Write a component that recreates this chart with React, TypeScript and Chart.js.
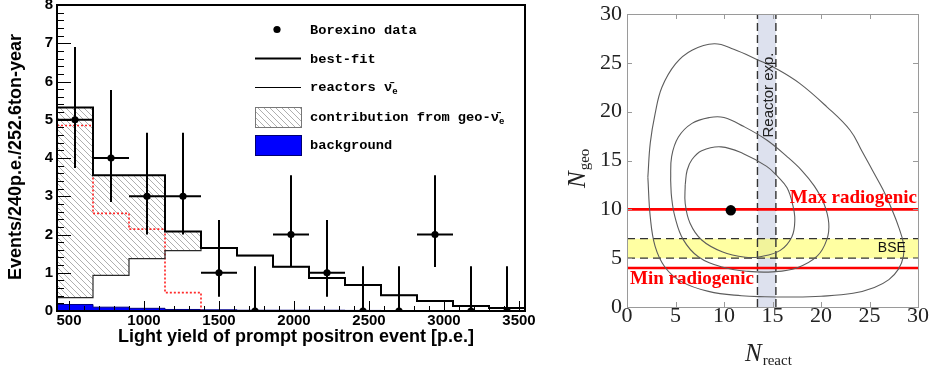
import React, { useEffect, useRef } from 'react';
import { Chart, registerables } from 'chart.js';

Chart.register(...registerables);

// ---------------- Left panel: Borexino prompt-event spectrum ----------------
const binLowEdges = [420, 660, 900, 1140, 1380, 1620, 1860, 2100, 2340, 2580, 2820, 3060, 3300];
const binHighEdge = 3540;
const binCenters = [540, 780, 1020, 1260, 1500, 1740, 1980, 2220, 2460, 2700, 2940, 3180, 3420];
const binHalfWidth = 120;
const dataCounts = [5, 4, 3, 3, 1, 0, 2, 1, 0, 0, 2, 0, 0];
const dataErrHigh = [6.9, 5.78, 4.66, 4.66, 2.38, 1.17, 3.55, 2.38, 1.17, 1.17, 3.55, 1.17, 1.17];
const dataErrLow = [3.74, 2.85, 2.0, 2.0, 0.37, 0, 1.15, 0.37, 0, 0, 1.15, 0, 0];
const bestFitValues = [5.32, 3.55, 3.55, 2.08, 1.65, 1.45, 1.16, 0.86, 0.68, 0.41, 0.26, 0.13, 0.08];
const reactorValues = [0.35, 0.93, 1.37, 1.58, 1.65, 1.45, 1.16, 0.86, 0.68, 0.41, 0.26, 0.13, 0.08];
const geoValues = [4.85, 2.55, 2.14, 0.48, 0, 0, 0, 0, 0, 0, 0, 0, 0];
const backgroundValues = [0.17, 0.1, 0.07, 0.04, 0.03, 0.02, 0.02, 0.02, 0.015, 0.01, 0.01, 0.01, 0.01];
const leftXTicks = [500, 1000, 1500, 2000, 2500, 3000, 3500];
const leftYTicks = [0, 1, 2, 3, 4, 5, 6, 7, 8];
const leftXRange = [420, 3540];
const leftYRange = [0, 8];

// ---------------- Right panel: N_geo vs N_react ----------------
const contour9973 = [
  [2.15, 13.3], [2.4, 16.8], [2.9, 19.8], [3.6, 22.5], [5.0, 24.9], [6.7, 26.3], [9.0, 26.95],
  [11.0, 26.4], [13.5, 25.3], [15.4, 24.4], [17.8, 22.9], [20.6, 20.5], [23.0, 18.1], [24.2, 16.0],
  [25.3, 14.0], [26.4, 12.0], [27.3, 10.0], [28.0, 8.2], [28.5, 6.5], [28.5, 5.2], [28.0, 3.9],
  [27.0, 2.8], [25.5, 2.0], [23.3, 1.4], [20.0, 1.1], [17.0, 1.02], [14.2, 1.05], [11.8, 1.15],
  [8.4, 1.6], [5.6, 2.6], [3.9, 4.1], [2.9, 6.2], [2.4, 9.2], [2.15, 13.3],
];
const contour90 = [
  [4.5, 13.0], [4.6, 15.4], [5.3, 17.4], [6.7, 18.8], [8.5, 19.4], [10.0, 19.4], [12.0, 18.5],
  [14.4, 17.1], [16.5, 15.4], [18.0, 14.0], [19.3, 12.4], [20.3, 10.6], [20.8, 8.6], [20.6, 6.9],
  [19.6, 5.2], [17.5, 4.0], [15.0, 3.6], [12.5, 3.65], [9.8, 4.1], [7.35, 5.15], [5.8, 6.9],
  [4.95, 9.2], [4.6, 11.2], [4.5, 13.0],
];
const contour68 = [
  [6.0, 12.5], [6.2, 14.0], [6.7, 15.1], [7.7, 16.0], [9.7, 16.4], [12.0, 15.7], [14.4, 14.4],
  [15.5, 13.4], [16.5, 12.2], [17.1, 10.4], [17.3, 8.9], [17.0, 7.2], [15.8, 5.8], [13.7, 5.15],
  [12.2, 5.1], [9.8, 5.66], [7.7, 6.86], [6.5, 8.57], [6.0, 10.6], [6.0, 12.5],
];
const bestFitPoint = [10.7, 9.9];
const reactorBand = [13.45, 15.35];
const bseBand = [5, 7];
const maxRadiogenic = 10;
const minRadiogenic = 4;
const rightTicks = [0, 5, 10, 15, 20, 25, 30];
const rightRange = [0, 30];

const toXY = (pts: number[][]) => pts.map(([x, y]) => ({ x, y }));
const steps = (vals: number[]) => [
  ...binLowEdges.map((x, i) => ({ x, y: vals[i] })),
  { x: binHighEdge, y: vals[vals.length - 1] },
];

function makeHatch(): CanvasPattern | string {
  const c = document.createElement('canvas');
  const s = 6;
  c.width = s;
  c.height = s;
  const g = c.getContext('2d');
  if (!g) return '#ccc';
  g.strokeStyle = '#a6a6a6';
  g.lineWidth = 0.9;
  g.beginPath();
  for (const k of [-s, 0, s]) {
    g.moveTo(k, 0);
    g.lineTo(k + s, s);
  }
  g.stroke();
  return g.createPattern(c, 'repeat') || '#ccc';
}

const SANS = '"Liberation Sans", Arial, sans-serif';
const SERIF = '"Liberation Serif", "Times New Roman", serif';
const MONO = '"Liberation Mono", "Courier New", monospace';

function leftDecor(hatch: CanvasPattern | string) {
  return {
    id: 'leftDecor',
    afterDatasetsDraw(chart: any) {
      const { ctx } = chart;
      const x = chart.scales.x;
      const y = chart.scales.y;
      ctx.save();
      ctx.strokeStyle = '#000';
      ctx.lineWidth = 2;
      binCenters.forEach((cx: number, i: number) => {
        const px = x.getPixelForValue(cx);
        ctx.beginPath();
        ctx.moveTo(px, y.getPixelForValue(dataErrLow[i]));
        ctx.lineTo(px, y.getPixelForValue(dataErrHigh[i]));
        if (dataCounts[i] > 0) {
          const py = y.getPixelForValue(dataCounts[i]);
          ctx.moveTo(x.getPixelForValue(cx - binHalfWidth), py);
          ctx.lineTo(x.getPixelForValue(cx + binHalfWidth), py);
        }
        ctx.stroke();
      });
      ctx.restore();
    },
    afterDraw(chart: any) {
      const { ctx, chartArea: a } = chart;
      const x = chart.scales.x;
      const y = chart.scales.y;
      ctx.save();
      // inner ticks
      ctx.strokeStyle = '#000';
      ctx.lineWidth = 1;
      ctx.beginPath();
      for (let k = 0; k <= 40; k++) {
        const v = leftYRange[0] + k * 0.2;
        const py = Math.round(y.getPixelForValue(v)) + 0.5;
        const len = k % 5 === 0 ? 14 : 7;
        ctx.moveTo(a.left, py);
        ctx.lineTo(a.left + len, py);
      }
      for (let v = 500; v <= 3500; v += 100) {
        const px = Math.round(x.getPixelForValue(v)) + 0.5;
        const len = v % 500 === 0 ? 10 : 5;
        ctx.moveTo(px, a.bottom);
        ctx.lineTo(px, a.bottom - len);
      }
      ctx.stroke();
      // frame
      ctx.lineWidth = 2;
      ctx.strokeRect(a.left, a.top, a.right - a.left, a.bottom - a.top);

      // axis titles
      ctx.fillStyle = '#000';
      ctx.font = `bold 18px ${SANS}`;
      ctx.textAlign = 'center';
      ctx.textBaseline = 'alphabetic';
      ctx.fillText('Light yield of prompt positron event [p.e.]', 296, 342);
      ctx.save();
      ctx.translate(21, 157);
      ctx.rotate(-Math.PI / 2);
      ctx.fillText('Events/240p.e./252.6ton-year', 0, 0);
      ctx.restore();

      // legend
      const bx0 = 255;
      const bw = 46;
      const tx = 310;
      ctx.font = `bold 13.7px ${MONO}`;
      ctx.textAlign = 'left';
      ctx.textBaseline = 'middle';
      ctx.beginPath();
      ctx.arc(277, 29.5, 3.6, 0, Math.PI * 2);
      ctx.fill();
      ctx.fillText('Borexino data', tx, 31);

      ctx.lineWidth = 2;
      ctx.beginPath();
      ctx.moveTo(bx0, 58.5);
      ctx.lineTo(bx0 + bw, 58.5);
      ctx.stroke();
      ctx.fillText('best-fit', tx, 60);

      ctx.lineWidth = 1;
      ctx.beginPath();
      ctx.moveTo(bx0, 87.5);
      ctx.lineTo(bx0 + bw, 87.5);
      ctx.stroke();
      const nuBar = 'ν\u0304';
      const t3 = 'reactors ' + nuBar;
      ctx.fillText(t3, tx, 88);
      let w = ctx.measureText(t3).width;
      ctx.font = `bold 9px ${MONO}`;
      ctx.fillText('e', tx + w, 92);

      ctx.fillStyle = hatch as any;
      ctx.fillRect(bx0, 107, bw, 20);
      ctx.strokeStyle = '#777';
      ctx.lineWidth = 1;
      ctx.strokeRect(bx0 + 0.5, 107.5, bw, 20);
      ctx.fillStyle = '#000';
      ctx.font = `bold 13.7px ${MONO}`;
      const t4 = 'contribution from geo-' + nuBar;
      ctx.fillText(t4, tx, 118);
      w = ctx.measureText(t4).width;
      ctx.font = `bold 9px ${MONO}`;
      ctx.fillText('e', tx + w, 122);

      ctx.fillStyle = '#0000ff';
      ctx.fillRect(bx0, 135, bw, 21);
      ctx.strokeStyle = '#000070';
      ctx.strokeRect(bx0 + 0.5, 135.5, bw, 20);
      ctx.fillStyle = '#000';
      ctx.font = `bold 13.7px ${MONO}`;
      ctx.fillText('background', tx, 146);
      ctx.restore();
    },
  };
}

const rightDecor = {
  id: 'rightDecor',
  afterDatasetsDraw(chart: any) {
    const { ctx } = chart;
    const x = chart.scales.x;
    const y = chart.scales.y;
    ctx.save();
    ctx.fillStyle = '#80306a';
    ctx.font = `17.7px ${SANS}`;
    ctx.textAlign = 'left';
    ctx.textBaseline = 'alphabetic';
    ctx.fillText('68%, 90% and 99.73% C.L.', 635, 38);

    ctx.save();
    ctx.fillStyle = '#222';
    ctx.font = `15px ${SANS}`;
    ctx.translate((x.getPixelForValue(reactorBand[0]) + x.getPixelForValue(reactorBand[1])) / 2 + 2, 95);
    ctx.rotate(-Math.PI / 2);
    ctx.textAlign = 'center';
    ctx.textBaseline = 'middle';
    ctx.fillText('Reactor exp.', 0, 0);
    ctx.restore();

    ctx.fillStyle = '#111';
    ctx.font = `14px ${SANS}`;
    ctx.textAlign = 'center';
    ctx.textBaseline = 'middle';
    ctx.fillText('BSE', x.getPixelForValue(27.3), y.getPixelForValue((bseBand[0] + bseBand[1]) / 2));

    ctx.fillStyle = '#ff0000';
    ctx.font = `bold 19px ${SERIF}`;
    ctx.textBaseline = 'alphabetic';
    ctx.textAlign = 'right';
    ctx.fillText('Max radiogenic', x.getPixelForValue(rightRange[1]) - 1, y.getPixelForValue(maxRadiogenic) - 6);
    ctx.textAlign = 'left';
    ctx.fillText('Min radiogenic', x.getPixelForValue(rightRange[0]) + 3, y.getPixelForValue(minRadiogenic) + 16);
    ctx.restore();
  },
  afterDraw(chart: any) {
    const { ctx, chartArea: a } = chart;
    const x = chart.scales.x;
    const y = chart.scales.y;
    ctx.save();
    ctx.strokeStyle = '#9a9a9a';
    ctx.lineWidth = 1;
    ctx.beginPath();
    rightTicks.forEach((v) => {
      const px = Math.round(x.getPixelForValue(v)) + 0.5;
      const py = Math.round(y.getPixelForValue(v)) + 0.5;
      ctx.moveTo(px, a.bottom); ctx.lineTo(px, a.bottom - 5);
      ctx.moveTo(px, a.top); ctx.lineTo(px, a.top + 5);
      ctx.moveTo(a.left, py); ctx.lineTo(a.left + 5, py);
      ctx.moveTo(a.right, py); ctx.lineTo(a.right - 5, py);
    });
    ctx.stroke();
    ctx.strokeRect(Math.round(a.left) + 0.5, Math.round(a.top) + 0.5, Math.round(a.right - a.left), Math.round(a.bottom - a.top));

    // axis titles
    ctx.fillStyle = '#222';
    ctx.textBaseline = 'alphabetic';
    ctx.textAlign = 'left';
    ctx.save();
    ctx.translate(585 - 545, 188);
    ctx.rotate(-Math.PI / 2);
    ctx.font = `italic 25px ${SERIF}`;
    ctx.fillText('N', 0, 0);
    let wN = ctx.measureText('N').width;
    ctx.font = `15px ${SERIF}`;
    ctx.fillText('geo', wN + 1, 4);
    ctx.restore();

    ctx.font = `italic 25px ${SERIF}`;
    ctx.fillText('N', 745 - 545, 361);
    wN = ctx.measureText('N').width;
    ctx.font = `15px ${SERIF}`;
    ctx.fillText('react', 745 - 545 + wN + 1, 365);
    ctx.restore();
  },
};

const plainLabel = (v: any) => String(v);

function leftConfig(hatch: CanvasPattern | string): any {
  return {
    type: 'line',
    data: {
      datasets: [
        {
          type: 'scatter', label: 'Borexino data',
          data: binCenters.map((x, i) => ({ x, y: dataCounts[i] })),
          pointRadius: 3.6, pointBackgroundColor: '#000', pointBorderColor: '#000', pointBorderWidth: 0,
          showLine: false, order: 0,
        },
        {
          label: 'best-fit', data: steps(bestFitValues), stepped: 'before',
          borderColor: '#000', borderWidth: 2, pointRadius: 0,
          fill: { target: 2 }, backgroundColor: hatch, order: 1,
        },
        {
          label: 'reactors', data: steps(reactorValues), stepped: 'before',
          borderColor: '#2a2a2a', borderWidth: 1.2, pointRadius: 0, fill: false, order: 2,
        },
        {
          label: 'geo', data: steps(geoValues), stepped: 'before',
          borderColor: '#ff2a2a', borderWidth: 1.7, borderDash: [2, 2], pointRadius: 0, fill: false, order: 3,
        },
        {
          label: 'background', data: steps(backgroundValues), stepped: 'before',
          borderColor: '#000080', borderWidth: 1, backgroundColor: '#0000ff', fill: 'origin', pointRadius: 0, order: 4,
        },
      ],
    },
    options: {
      animation: false,
      responsive: false,
      maintainAspectRatio: false,
      layout: { padding: { top: 5, right: 20, left: 0, bottom: 0 } },
      plugins: {
        legend: { display: false },
        tooltip: { enabled: false },
        filler: { drawTime: 'beforeDatasetsDraw' },
      },
      scales: {
        x: {
          type: 'linear', min: leftXRange[0], max: leftXRange[1],
          afterBuildTicks: (s: any) => { s.ticks = leftXTicks.map((v) => ({ value: v })); },
          afterFit: (s: any) => { s.height = 63; s.paddingLeft = 0; s.paddingRight = 0; },
          grid: { display: false, drawTicks: false },
          border: { display: false },
          ticks: { callback: plainLabel, font: { family: SANS, weight: 'bold', size: 15 }, color: '#000', padding: 1, maxRotation: 0, autoSkip: false },
        },
        y: {
          type: 'linear', min: leftYRange[0], max: leftYRange[1],
          afterBuildTicks: (s: any) => { s.ticks = leftYTicks.map((v) => ({ value: v })); },
          afterFit: (s: any) => { s.width = 57; s.paddingTop = 0; s.paddingBottom = 0; },
          grid: { display: false, drawTicks: false },
          border: { display: false },
          ticks: { callback: plainLabel, font: { family: SANS, weight: 'bold', size: 15 }, color: '#000', padding: 4, autoSkip: false },
        },
      },
    },
    plugins: [leftDecor(hatch)],
  };
}

function rightConfig(): any {
  const hline = (v: number) => [{ x: rightRange[0], y: v }, { x: rightRange[1], y: v }];
  const vline = (v: number) => [{ x: v, y: rightRange[0] }, { x: v, y: rightRange[1] }];
  return {
    type: 'scatter',
    data: {
      datasets: [
        { label: 'Best fit', data: [{ x: bestFitPoint[0], y: bestFitPoint[1] }], pointRadius: 5.2, pointBackgroundColor: '#000', pointBorderWidth: 0, order: 0 },
        { label: '68% C.L.', data: toXY(contour68), showLine: true, tension: 0.4, borderColor: '#5c5c5c', borderWidth: 1.1, pointRadius: 0, fill: false, order: 1 },
        { label: '90% C.L.', data: toXY(contour90), showLine: true, tension: 0.4, borderColor: '#5c5c5c', borderWidth: 1.1, pointRadius: 0, fill: false, order: 1 },
        { label: '99.73% C.L.', data: toXY(contour9973), showLine: true, tension: 0.4, borderColor: '#5c5c5c', borderWidth: 1.1, pointRadius: 0, fill: false, order: 1 },
        { label: 'Max radiogenic', data: hline(maxRadiogenic), showLine: true, borderColor: '#ff0000', borderWidth: 2.6, pointRadius: 0, order: 2 },
        { label: 'Min radiogenic', data: hline(minRadiogenic), showLine: true, borderColor: '#ff0000', borderWidth: 2.6, pointRadius: 0, order: 2 },
        { label: 'BSE upper', data: hline(bseBand[1]), showLine: true, borderColor: '#333', borderDash: [8, 5], borderWidth: 1.4, pointRadius: 0, fill: { target: 7 }, backgroundColor: 'rgba(255,255,100,0.6)', order: 3 },
        { label: 'BSE lower', data: hline(bseBand[0]), showLine: true, borderColor: '#333', borderDash: [8, 5], borderWidth: 1.4, pointRadius: 0, fill: false, order: 3 },
        { label: 'Reactor exp. band', data: [{ x: reactorBand[0], y: rightRange[1] }, { x: reactorBand[1], y: rightRange[1] }], showLine: true, borderColor: 'rgba(0,0,0,0)', borderWidth: 0, pointRadius: 0, fill: 'origin', backgroundColor: '#dde1ee', order: 5 },
        { label: 'Reactor low', data: vline(reactorBand[0]), showLine: true, borderColor: '#333', borderDash: [8, 4], borderWidth: 1.4, pointRadius: 0, order: 3 },
        { label: 'Reactor high', data: vline(reactorBand[1]), showLine: true, borderColor: '#333', borderDash: [8, 4], borderWidth: 1.4, pointRadius: 0, order: 3 },
      ],
    },
    options: {
      animation: false,
      responsive: false,
      maintainAspectRatio: false,
      layout: { padding: { top: 14, right: 13, left: 0, bottom: 0 } },
      plugins: {
        legend: { display: false },
        tooltip: { enabled: false },
        filler: { drawTime: 'beforeDatasetsDraw' },
      },
      scales: {
        x: {
          type: 'linear', min: rightRange[0], max: rightRange[1],
          afterBuildTicks: (s: any) => { s.ticks = rightTicks.map((v) => ({ value: v })); },
          afterFit: (s: any) => { s.height = 67; s.paddingLeft = 0; s.paddingRight = 0; },
          grid: { display: false, drawTicks: false },
          border: { display: false },
          ticks: { callback: plainLabel, font: { family: SERIF, size: 22, lineHeight: 1 }, color: '#222', padding: -2, maxRotation: 0, autoSkip: false },
        },
        y: {
          type: 'linear', min: rightRange[0], max: rightRange[1],
          afterBuildTicks: (s: any) => { s.ticks = rightTicks.map((v) => ({ value: v })); },
          afterFit: (s: any) => { s.width = 82; s.paddingTop = 0; s.paddingBottom = 0; },
          grid: { display: false, drawTicks: false },
          border: { display: false },
          ticks: { callback: plainLabel, font: { family: SERIF, size: 22 }, color: '#222', padding: 5, autoSkip: false },
        },
      },
    },
    plugins: [rightDecor],
  };
}

export default function App() {
  const leftRef = useRef<HTMLCanvasElement>(null);
  const rightRef = useRef<HTMLCanvasElement>(null);
  useEffect(() => {
    const hatch = makeHatch();
    const c1 = new Chart(leftRef.current as HTMLCanvasElement, leftConfig(hatch));
    const c2 = new Chart(rightRef.current as HTMLCanvasElement, rightConfig());
    return () => {
      c1.destroy();
      c2.destroy();
    };
  }, []);
  return (
    <div style={{ position: 'absolute', left: 0, top: 0, width: 931, height: 374, background: '#fff', overflow: 'hidden' }}>
      <canvas ref={leftRef} width={545} height={374} style={{ position: 'absolute', left: 0, top: 0, width: 545, height: 374 }} />
      <canvas ref={rightRef} width={386} height={374} style={{ position: 'absolute', left: 545, top: 0, width: 386, height: 374 }} />
    </div>
  );
}
